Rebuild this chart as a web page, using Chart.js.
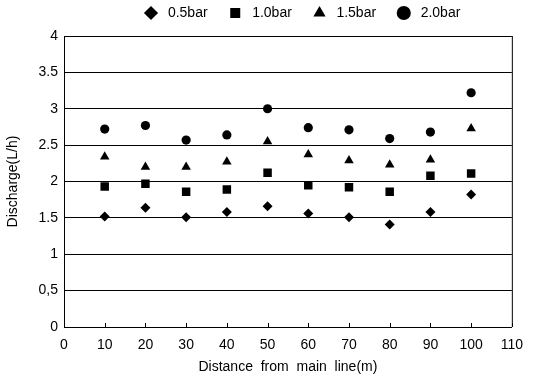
<!DOCTYPE html>
<html>
<head>
  <title>Discharge</title>
  <script src="https://cdn.jsdelivr.net/npm/chart.js@4"></script>
  <style>
    body { margin: 0; background: #fff; }
    #wrap { width: 533px; height: 384px; }
  </style>
</head>
<body>
  <div id="wrap"><canvas id="chart" width="533" height="384"></canvas></div>
  <script>
    var distances = [10, 20, 30, 40, 50, 60, 70, 80, 90, 100];
    var bar05 = [1.52, 1.64, 1.51, 1.58, 1.66, 1.56, 1.51, 1.41, 1.58, 1.82];
    var bar10 = [1.93, 1.97, 1.86, 1.89, 2.12, 1.95, 1.92, 1.86, 2.08, 2.11];
    var bar15 = [2.34, 2.20, 2.20, 2.27, 2.55, 2.37, 2.29, 2.23, 2.30, 2.73];
    var bar20 = [2.72, 2.77, 2.57, 2.64, 3.00, 2.74, 2.71, 2.59, 2.68, 3.22];
    var seriesNames = ['0.5bar', '1.0bar', '1.5bar', '2.0bar'];
    var yTicks = [0, 0.5, 1, 1.5, 2, 2.5, 3, 3.5, 4];
    var xTicks = [0, 10, 20, 30, 40, 50, 60, 70, 80, 90, 100, 110];

    function pts(vals) {
      return distances.map(function (d, i) { return { x: d, y: vals[i] }; });
    }

    var styles = [
      { style: 'rectRot', r: 5 },
      { style: 'rect', r: 6 },
      { style: 'triangle', r: 5.5 },
      { style: 'circle', r: 4.6 }
    ];
    var allVals = [bar05, bar10, bar15, bar20];

    // small inner ticks on x axis, frame on the right, legend nudged
    var framePlugin = {
      id: 'frame',
      afterLayout: function (chart) {
        var lg = chart.legend;
        lg.left += 50;
        lg.right += 50;
        lg.top -= 6;
        lg.bottom -= 6;
      },
      afterDraw: function (chart) {
        var ctx = chart.ctx, a = chart.chartArea, xs = chart.scales.x;
        ctx.save();
        ctx.strokeStyle = '#000';
        ctx.lineWidth = 1;
        ctx.beginPath();
        ctx.moveTo(a.right + 0.5, a.top);
        ctx.lineTo(a.right + 0.5, a.bottom);
        xTicks.forEach(function (t) {
          var px = Math.round(xs.getPixelForValue(t)) + 0.5;
          ctx.moveTo(px, a.bottom);
          ctx.lineTo(px, a.bottom - 4);
        });
        ctx.stroke();
        ctx.restore();
      }
    };

    var font = { family: 'Liberation Sans, Arial, sans-serif', size: 14 };

    new Chart(document.getElementById('chart'), {
      type: 'scatter',
      data: {
        datasets: seriesNames.map(function (name, i) {
          return {
            label: name,
            data: pts(allVals[i]),
            pointStyle: styles[i].style,
            pointRadius: styles[i].r,
            pointHoverRadius: styles[i].r,
            backgroundColor: '#000',
            borderColor: '#000',
            borderWidth: 0
          };
        })
      },
      options: {
        responsive: false,
        animation: false,
        layout: { padding: { left: 0, right: 16, top: 2, bottom: 4 } },
        plugins: {
          tooltip: { enabled: false },
          legend: {
            display: true,
            position: 'top',
            labels: {
              usePointStyle: true,
              boxWidth: 12,
              boxHeight: 10,
              padding: 10,
              color: '#000',
              font: font,
              generateLabels: function (chart) {
                var items = Chart.defaults.plugins.legend.labels.generateLabels(chart);
                items.forEach(function (it) { it.text = ' ' + it.text + '   '; });
                return items;
              }
            }
          }
        },
        scales: {
          x: {
            type: 'linear',
            min: 0,
            max: 110,
            afterBuildTicks: function (s) { s.ticks = xTicks.map(function (v) { return { value: v }; }); },
            afterFit: function (s) { s.height = 53; },
            grid: { display: false, drawTicks: false },
            border: { display: true, color: '#000', width: 1 },
            ticks: { color: '#000', font: font, padding: 10, maxRotation: 0 },
            title: { display: true, text: 'Distance  from  main  line(m)', color: '#000', font: font, padding: { top: 5 } }
          },
          y: {
            min: 0,
            max: 4,
            afterBuildTicks: function (s) { s.ticks = yTicks.map(function (v) { return { value: v }; }); },
            afterFit: function (s) { s.width = 64; },
            grid: { color: '#000', lineWidth: 1, drawTicks: false },
            border: { display: true, color: '#000', width: 1 },
            ticks: {
              color: '#000', font: font, padding: 6,
              callback: function (v) { return v === 0.5 ? '0,5' : String(v); }
            },
            title: { display: true, text: 'Discharge(L/h)', color: '#000', font: font, padding: { top: 5, bottom: 0 } }
          }
        }
      },
      plugins: [framePlugin]
    });
  </script>
</body>
</html>
